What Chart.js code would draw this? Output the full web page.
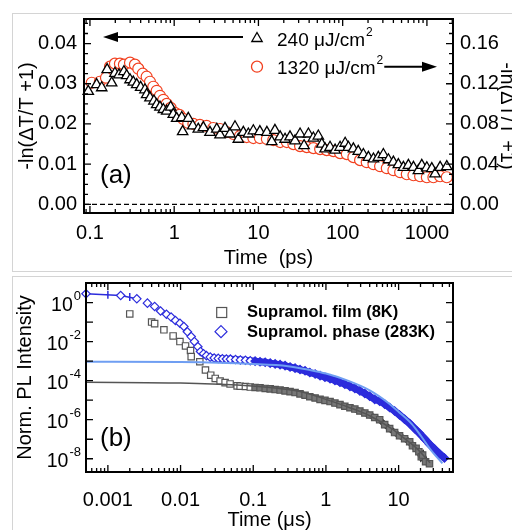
<!DOCTYPE html>
<html>
<head>
<meta charset="utf-8">
<title>Transient absorption and PL decay</title>
<script src="https://cdn.jsdelivr.net/npm/chart.js@4.4.1/dist/chart.umd.min.js"></script>
<style>
  html, body { margin: 0; padding: 0; background: #fff; }
  #page { position: relative; width: 512px; height: 530px; overflow: hidden; }
  .frame { position: absolute; left: 12px; width: 520px; border: 1px solid #d4d4d4; border-right: none; }
  #frame-a { top: 13px; height: 257px; }
  #frame-b { top: 276px; height: 300px; border-bottom: none; }
  canvas { position: absolute; left: 0; }
  #chart-a { top: 0; }
  #chart-b { top: 272px; }
</style>
</head>
<body>
<div id="page">
  <div class="frame" id="frame-a"></div>
  <div class="frame" id="frame-b"></div>
  <canvas id="chart-a" width="525" height="270"></canvas>
  <canvas id="chart-b" width="512" height="258"></canvas>
</div>
<script>
const FONT = "'Liberation Sans', Arial, Helvetica, sans-serif";
Chart.defaults.font.family = FONT;
Chart.defaults.color = '#000';

// ---------- panel (a): -ln(dT/T+1) vs time (ps) ----------
// 240 uJ/cm2, read on the left axis
const lowTime = [0.0955, 0.120, 0.138, 0.160, 0.181, 0.198, 0.221, 0.253, 0.273, 0.299,
  0.327, 0.359, 0.400, 0.450, 0.471, 0.516, 0.575, 0.620, 0.678, 0.743,
  0.815, 0.908, 0.975, 1.07, 1.23, 1.26, 1.47, 1.66, 1.93, 2.22,
  2.66, 3.20, 3.50, 4.01, 4.60, 5.27, 5.77, 6.62, 7.59, 8.70,
  10.4, 12.6, 14.4, 15.7, 18.1, 20.7, 23.7, 27.2, 31.2, 34.8,
  39.2, 44.9, 51.4, 56.5, 61.8, 70.8, 81.3, 93.1, 107, 117,
  134, 153, 176, 202, 232, 265, 304, 349, 400, 458,
  526, 603, 692, 792, 869, 998, 1143, 1250, 1435, 1722];
const lowSignal = [0.0281, 0.0298, 0.0290, 0.0335, 0.0302, 0.0326, 0.0322, 0.0330, 0.0320, 0.0310,
  0.0304, 0.0298, 0.0291, 0.0285, 0.0273, 0.0265, 0.0257, 0.0248, 0.0242, 0.0236,
  0.0232, 0.0242, 0.0224, 0.0214, 0.0216, 0.0181, 0.0214, 0.0195, 0.0187, 0.0191,
  0.0179, 0.0187, 0.0173, 0.0189, 0.0175, 0.0193, 0.0162, 0.0179, 0.0175, 0.0183,
  0.0181, 0.0179, 0.0156, 0.0184, 0.0168, 0.0162, 0.0168, 0.0158, 0.0175, 0.0146,
  0.0175, 0.0165, 0.0170, 0.0150, 0.0138, 0.0142, 0.0135, 0.0142, 0.0152, 0.0142,
  0.0138, 0.0132, 0.0124, 0.0117, 0.0113, 0.0117, 0.0124, 0.0111, 0.0105, 0.0099,
  0.0092, 0.0097, 0.0092, 0.0084, 0.0097, 0.0091, 0.0089, 0.0076, 0.0092, 0.0094];

// 1320 uJ/cm2, read on the right axis
const highTime = [0.105, 0.131, 0.155, 0.173, 0.198, 0.227, 0.253, 0.299, 0.342, 0.375,
  0.423, 0.471, 0.516, 0.565, 0.620, 0.678, 0.743, 0.815, 0.908, 1.02,
  1.15, 1.28, 1.47, 1.69, 2.02, 2.43, 2.91, 3.50, 4.20, 5.04,
  6.04, 7.26, 8.70, 10.4, 12.6, 15.0, 18.1, 21.7, 26.0, 31.2,
  37.5, 44.9, 54.0, 64.7, 77.6, 93.1, 112, 134, 161, 193,
  232, 278, 334, 400, 481, 577, 692, 830, 998, 1194,
  1435, 1722];
const highSignal = [0.121, 0.122, 0.126, 0.137, 0.140, 0.140, 0.139, 0.141, 0.139, 0.135,
  0.130, 0.127, 0.122, 0.117, 0.113, 0.108, 0.104, 0.100, 0.096, 0.091,
  0.089, 0.085, 0.081, 0.080, 0.079, 0.078, 0.076, 0.075, 0.072, 0.070,
  0.068, 0.067, 0.066, 0.066, 0.065, 0.064, 0.062, 0.062, 0.060, 0.058,
  0.057, 0.056, 0.055, 0.054, 0.053, 0.051, 0.050, 0.047, 0.044, 0.042,
  0.040, 0.038, 0.036, 0.034, 0.032, 0.030, 0.029, 0.028, 0.027, 0.027,
  0.028, 0.027];

const psTicks = [0.1, 1, 10, 100, 1000];
const psMinorTicks = [0.09, 0.2, 0.3, 0.4, 0.5, 0.6, 0.7, 0.8, 0.9, 2, 3, 4, 5, 6, 7, 8, 9,
  20, 30, 40, 50, 60, 70, 80, 90, 200, 300, 400, 500, 600, 700, 800, 900, 2000];
const leftTicks = [0, 0.01, 0.02, 0.03, 0.04];
const leftMinorTicks = [0.0025, 0.005, 0.0075, 0.0125, 0.015, 0.0175, 0.0225, 0.025, 0.0275,
  0.0325, 0.035, 0.0375, 0.0425, 0.045];
const rightTicks = [0, 0.04, 0.08, 0.12, 0.16];
const rightMinorTicks = [0.01, 0.02, 0.03, 0.05, 0.06, 0.07, 0.09, 0.10, 0.11, 0.13, 0.14, 0.15, 0.17, 0.18];

// ---------- panel (b): normalised PL intensity vs time (us) ----------
const phaseTime = [5.0e-4, 1.5e-3, 2.5e-3, 3.5e-3, 4.4e-3, 5.3e-3, 6.4e-3, 7.4e-3, 8.5e-3, 9.8e-3,
  0.0111, 0.0124, 0.014, 0.0155, 0.0173, 0.0188, 0.0207, 0.0227, 0.0256, 0.029,
  0.033, 0.0376, 0.0427, 0.0485, 0.057, 0.0665, 0.078, 0.091, 0.106, 0.124,
  0.146, 0.171, 0.20, 0.234, 0.274, 0.321, 0.376, 0.44, 0.516, 0.60,
  0.71, 0.83, 0.97, 1.14, 1.33, 1.56, 1.82, 2.14, 2.5, 2.93,
  3.43, 4.0, 4.69, 5.49, 6.43, 7.53, 8.81, 10.3, 12.1, 14.2,
  16.6, 19.4, 22.7, 26.6, 31.1, 36.5, 42.7];
const phaseValue = [2.8, 2.3, 1.55, 0.93, 0.63, 0.37, 0.25, 0.18, 0.12, 0.087,
  0.059, 0.032, 0.018, 0.010, 0.0055, 0.0031, 0.0024, 0.0019, 0.0016, 0.00145,
  0.00138, 0.00132, 0.00129, 0.00126, 0.0012, 0.00115, 0.0011, 0.00105, 0.001, 9.3e-4,
  8.7e-4, 7.9e-4, 7.2e-4, 6.6e-4, 5.9e-4, 5.0e-4, 4.4e-4, 3.7e-4, 3.2e-4, 2.6e-4,
  2.2e-4, 1.8e-4, 1.5e-4, 1.26e-4, 1.02e-4, 8.3e-5, 6.6e-5, 5.1e-5, 4.0e-5, 3.0e-5,
  2.2e-5, 1.6e-5, 1.1e-5, 8.9e-6, 6.3e-6, 4.2e-6, 2.8e-6, 1.74e-6, 1.05e-6, 6.3e-7,
  3.5e-7, 2.0e-7, 1.07e-7, 5.6e-8, 3.2e-8, 1.8e-8, 1.1e-8];
// little bars on the first phase points
const capTime = [0.001, 0.002];
const capValue = [2.5, 1.9];

const filmTime = [2.0e-3, 4.0e-3, 4.4e-3, 5.9e-3, 7.9e-3, 9.8e-3, 0.0117, 0.0137, 0.014, 0.0184,
  0.022, 0.026, 0.030, 0.035, 0.041, 0.048, 0.06, 0.066, 0.078, 0.091,
  0.106, 0.124, 0.146, 0.171, 0.20, 0.234, 0.274, 0.321, 0.376, 0.44,
  0.516, 0.60, 0.71, 0.83, 0.97, 1.14, 1.33, 1.56, 1.82, 2.14,
  2.5, 2.93, 3.43, 4.0, 4.69, 5.49, 6.43, 7.53, 8.81, 10.3,
  12.1, 14.2, 15.5, 17.4, 19.0, 20.5, 21.4, 23.5, 26.6];
const filmValue = [0.26, 0.10, 0.083, 0.04, 0.0195, 0.010, 0.006, 0.0035, 0.0017, 9.3e-4,
  3.5e-4, 1.9e-4, 1.3e-4, 9.6e-5, 7.9e-5, 6.8e-5, 5.4e-5, 5.2e-5, 5.0e-5, 4.7e-5,
  4.5e-5, 4.3e-5, 4.0e-5, 3.8e-5, 3.5e-5, 3.3e-5, 3.0e-5, 2.75e-5, 2.45e-5, 2.1e-5,
  1.8e-5, 1.5e-5, 1.3e-5, 1.1e-5, 9.8e-6, 8.5e-6, 7.1e-6, 5.9e-6, 4.9e-6, 4.1e-6,
  3.5e-6, 2.8e-6, 2.2e-6, 1.74e-6, 1.3e-6, 1.0e-6, 5.6e-7, 3.5e-7, 2.2e-7, 1.5e-7,
  1.07e-7, 7.4e-8, 4.6e-8, 3.4e-8, 2.3e-8, 1.26e-8, 1.55e-8, 7e-9, 5.6e-9];

// fit curves
const phaseFitTime = [5e-4, 0.01, 0.1, 0.3, 0.6, 1, 2, 4, 7, 10.3, 15, 20, 27, 40];
const phaseFitValue = [9.3e-4, 8.9e-4, 7.1e-4, 5.5e-4, 3.5e-4, 2.3e-4, 1.0e-4, 3.2e-5, 7.9e-6, 2.3e-6, 6.3e-7, 1.6e-7, 3.2e-8, 5.8e-9];
const filmFitTime = [5e-4, 0.01, 0.06, 0.2, 0.5, 1, 2, 4, 8, 12, 18, 27];
const filmFitValue = [8.3e-5, 7.6e-5, 6.0e-5, 4.2e-5, 2.5e-5, 1.1e-5, 4.5e-6, 1.6e-6, 3.5e-7, 1.1e-7, 3.2e-8, 6.3e-9];

const usTicks = [0.001, 0.01, 0.1, 1, 10];
const usMinorTicks = [6e-4, 7e-4, 8e-4, 9e-4, 0.002, 0.003, 0.004, 0.005, 0.006, 0.007, 0.008, 0.009,
  0.02, 0.03, 0.04, 0.05, 0.06, 0.07, 0.08, 0.09, 0.2, 0.3, 0.4, 0.5, 0.6, 0.7, 0.8, 0.9,
  2, 3, 4, 5, 6, 7, 8, 9, 20, 30, 40, 50];
const plDecades = [1e-8, 1e-7, 1e-6, 1e-5, 1e-4, 1e-3, 1e-2, 1e-1, 1];
const plLabelExp = [0, -2, -4, -6, -8];

const BLUE = '#2c2cdc';
const RED = '#f2401f';

function toPoints(xs, ys) {
  return xs.map((x, i) => ({ x: x, y: ys[i] }));
}

function setTicks(values) {
  return function (scale) {
    scale.ticks = values.map(v => ({ value: v }));
  };
}

// inward tick marks and the black box round the plot
function drawFrame(chart, marks) {
  const ctx = chart.ctx;
  const a = chart.chartArea;
  ctx.save();
  ctx.strokeStyle = '#000';
  ctx.lineWidth = 1.3;
  ctx.beginPath();
  marks.forEach(m => {
    const s = chart.scales[m.scale];
    m.values.forEach(v => {
      const p = s.getPixelForValue(v);
      m.sides.forEach(side => {
        if (side === 'bottom') { ctx.moveTo(p, a.bottom); ctx.lineTo(p, a.bottom - m.len); }
        if (side === 'top') { ctx.moveTo(p, a.top); ctx.lineTo(p, a.top + m.len); }
        if (side === 'left') { ctx.moveTo(a.left, p); ctx.lineTo(a.left + m.len, p); }
        if (side === 'right') { ctx.moveTo(a.right, p); ctx.lineTo(a.right - m.len, p); }
      });
    });
  });
  ctx.stroke();
  ctx.lineWidth = 2;
  ctx.strokeRect(a.left, a.top, a.right - a.left, a.bottom - a.top);
  ctx.restore();
}

function arrow(ctx, x1, x2, y) {
  const dir = Math.sign(x2 - x1);
  ctx.lineWidth = 2;
  ctx.beginPath();
  ctx.moveTo(x1, y);
  ctx.lineTo(x2 - dir * 12, y);
  ctx.stroke();
  ctx.beginPath();
  ctx.moveTo(x2, y);
  ctx.lineTo(x2 - dir * 15, y - 5);
  ctx.lineTo(x2 - dir * 15, y + 5);
  ctx.closePath();
  ctx.fill();
}

function textWithSup(ctx, x, y, base, sup, size) {
  ctx.font = size + 'px ' + FONT;
  ctx.fillText(base, x, y);
  const w = ctx.measureText(base).width;
  ctx.font = Math.round(size * 0.65) + 'px ' + FONT;
  ctx.fillText(sup, x + w + 1, y - size * 0.52);
  return x + w + 1 + ctx.measureText(sup).width;
}

const tickFont = { size: 20 };
const titleFont = { size: 20 };
const noGrid = { display: false, drawTicks: false };

// ---------- chart (a) ----------
const panelA = {
  id: 'panelA',
  beforeDatasetsDraw(chart) {
    const ctx = chart.ctx;
    const a = chart.chartArea;
    const y0 = chart.scales.y.getPixelForValue(0);
    ctx.save();
    ctx.setLineDash([5, 3]);
    ctx.lineWidth = 1.3;
    ctx.strokeStyle = '#000';
    ctx.beginPath();
    ctx.moveTo(a.left, y0);
    ctx.lineTo(a.right, y0);
    ctx.stroke();
    ctx.restore();
  },
  afterDatasetsDraw(chart) {
    drawFrame(chart, [
      { scale: 'x', values: psTicks, len: 7, sides: ['bottom', 'top'] },
      { scale: 'x', values: psMinorTicks, len: 4, sides: ['bottom', 'top'] },
      { scale: 'y', values: leftTicks, len: 7, sides: ['left'] },
      { scale: 'y', values: leftMinorTicks, len: 4, sides: ['left'] },
      { scale: 'y2', values: rightTicks, len: 7, sides: ['right'] },
      { scale: 'y2', values: rightMinorTicks, len: 4, sides: ['right'] }
    ]);
  },
  afterDraw(chart) {
    const ctx = chart.ctx;
    ctx.save();
    ctx.fillStyle = '#000';
    ctx.strokeStyle = '#000';
    // legend markers
    ctx.lineWidth = 1.3;
    ctx.fillStyle = '#fff';
    ctx.beginPath();
    ctx.moveTo(257, 32.5);
    ctx.lineTo(262.2, 41.5);
    ctx.lineTo(251.8, 41.5);
    ctx.closePath();
    ctx.fill();
    ctx.stroke();
    ctx.strokeStyle = RED;
    ctx.beginPath();
    ctx.arc(257, 66.7, 5.5, 0, Math.PI * 2);
    ctx.fill();
    ctx.stroke();
    ctx.fillStyle = '#000';
    ctx.strokeStyle = '#000';
    textWithSup(ctx, 277, 46, '240 μJ/cm', '2', 19);
    arrow(ctx, 243, 103, 37);
    const end = textWithSup(ctx, 277, 74, '1320 μJ/cm', '2', 19);
    arrow(ctx, end + 1, 437, 66.7);
    ctx.font = '26px ' + FONT;
    ctx.fillText('(a)', 100, 182.5);
    ctx.restore();
  }
};

new Chart(document.getElementById('chart-a'), {
  type: 'scatter',
  data: {
    datasets: [
      {
        label: '240 μJ/cm²',
        data: toPoints(lowTime, lowSignal),
        yAxisID: 'y',
        pointStyle: 'triangle',
        pointRadius: 6,
        pointBorderWidth: 1.3,
        borderColor: '#000',
        backgroundColor: '#fff',
        clip: false,
        order: 1
      },
      {
        label: '1320 μJ/cm²',
        data: toPoints(highTime, highSignal),
        yAxisID: 'y2',
        pointStyle: 'circle',
        pointRadius: 5.5,
        pointBorderWidth: 1.2,
        borderColor: RED,
        backgroundColor: '#fff',
        clip: false,
        order: 2
      }
    ]
  },
  options: {
    responsive: false,
    animation: false,
    devicePixelRatio: 1,
    layout: { padding: { top: 17, left: 0, right: 0, bottom: 0 } },
    plugins: { legend: { display: false }, tooltip: { enabled: false } },
    scales: {
      x: {
        type: 'logarithmic',
        position: 'bottom',
        min: 0.085,
        max: 2040,
        afterBuildTicks: setTicks(psTicks),
        afterFit: s => { s.height = 57; },
        grid: noGrid,
        border: { display: false },
        ticks: { autoSkip: false, maxRotation: 0, minRotation: 0, padding: 8, font: tickFont, color: '#000',
          callback: v => String(v) },
        title: { display: true, text: 'Time  (ps)', font: titleFont, color: '#000', padding: { top: 0, bottom: 0 } }
      },
      y: {
        position: 'left',
        min: -0.00214,
        max: 0.0461,
        afterBuildTicks: setTicks(leftTicks),
        afterFit: s => { s.width = 84; },
        grid: noGrid,
        border: { display: false },
        ticks: { padding: 7, font: tickFont, color: '#000', callback: v => v.toFixed(2) },
        title: { display: true, text: '-ln(ΔT/T +1)', font: titleFont, color: '#000', padding: { top: 15, bottom: 0 } }
      },
      y2: {
        position: 'right',
        min: -0.00856,
        max: 0.1844,
        afterBuildTicks: setTicks(rightTicks),
        afterFit: s => { s.width = 72; },
        grid: noGrid,
        border: { display: false },
        ticks: { padding: 7, font: tickFont, color: '#000', callback: v => v.toFixed(2) },
        title: { display: true, text: '-ln(ΔT/T +1)', font: titleFont, color: '#000', padding: { top: 6, bottom: 0 } }
      }
    }
  },
  plugins: [panelA]
});

// ---------- chart (b) ----------
const panelB = {
  id: 'panelB',
  afterDatasetsDraw(chart) {
    drawFrame(chart, [
      { scale: 'x', values: usTicks, len: 7, sides: ['bottom', 'top'] },
      { scale: 'x', values: usMinorTicks, len: 4, sides: ['bottom', 'top'] },
      { scale: 'y', values: plDecades, len: 7, sides: ['left', 'right'] }
    ]);
  },
  afterDraw(chart) {
    const ctx = chart.ctx;
    const a = chart.chartArea;
    const ys = chart.scales.y;
    ctx.save();
    ctx.fillStyle = '#000';
    ctx.textBaseline = 'alphabetic';
    // 10^n labels
    plLabelExp.forEach(e => {
      const py = ys.getPixelForValue(Math.pow(10, e));
      ctx.font = '13px ' + FONT;
      ctx.textAlign = 'right';
      const expText = String(e);
      const ew = ctx.measureText(expText).width;
      ctx.fillText(expText, a.left - 5, py - 2.5);
      ctx.font = '19.5px ' + FONT;
      ctx.fillText('10', a.left - 6 - ew, py + 8);
    });
    ctx.textAlign = 'left';
    // legend
    ctx.lineWidth = 1.2;
    ctx.strokeStyle = '#555';
    ctx.strokeRect(216.7, 35.5, 10, 10);
    ctx.strokeStyle = BLUE;
    ctx.beginPath();
    ctx.moveTo(221, 53.7);
    ctx.lineTo(227, 59.7);
    ctx.lineTo(221, 65.7);
    ctx.lineTo(215, 59.7);
    ctx.closePath();
    ctx.stroke();
    ctx.font = 'bold 16.5px ' + FONT;
    ctx.fillText('Supramol. film (8K)', 247, 44.7);
    ctx.fillText('Supramol. phase (283K)', 247, 64.7);
    ctx.font = '26px ' + FONT;
    ctx.fillText('(b)', 100, 174);
    ctx.restore();
  }
};

const phasePoints = toPoints(phaseTime, phaseValue);
const filmPoints = toPoints(filmTime, filmValue);

new Chart(document.getElementById('chart-b'), {
  type: 'scatter',
  data: {
    datasets: [
      {
        label: 'phase fit',
        data: toPoints(phaseFitTime, phaseFitValue),
        showLine: true,
        borderColor: '#6f9ef2',
        borderWidth: 2,
        pointRadius: 0,
        cubicInterpolationMode: 'monotone',
        clip: false,
        order: 0
      },
      {
        label: 'Supramol. phase (283K)',
        data: phasePoints,
        pointStyle: 'rectRot',
        pointRadius: 4.2,
        pointBorderWidth: 1.2,
        borderColor: BLUE,
        pointBackgroundColor: c => (c.raw && c.raw.x > 0.1 ? BLUE : '#fff'),
        clip: false,
        order: 1
      },
      {
        label: 'phase band',
        data: phasePoints.filter(p => p.x > 0.025),
        showLine: true,
        borderColor: BLUE,
        borderWidth: 7,
        pointRadius: 0,
        clip: false,
        order: 2
      },
      {
        label: 'phase start',
        data: phasePoints.slice(0, 3),
        showLine: true,
        borderColor: BLUE,
        borderWidth: 1.5,
        pointRadius: 0,
        clip: false,
        order: 3
      },
      {
        label: 'phase bars',
        data: toPoints(capTime, capValue),
        pointStyle: 'line',
        rotation: 90,
        pointRadius: 4,
        pointBorderWidth: 1.5,
        borderColor: BLUE,
        clip: false,
        order: 3
      },
      {
        label: 'film fit',
        data: toPoints(filmFitTime, filmFitValue),
        showLine: true,
        borderColor: '#555',
        borderWidth: 1.5,
        pointRadius: 0,
        cubicInterpolationMode: 'monotone',
        clip: false,
        order: 4
      },
      {
        label: 'Supramol. film (8K)',
        data: filmPoints,
        pointStyle: 'rect',
        pointRadius: 4.5,
        pointBorderWidth: 1.2,
        borderColor: '#555',
        pointBackgroundColor: c => (c.raw && c.raw.x > 0.1 ? '#777' : '#fff'),
        clip: false,
        order: 5
      },
      {
        label: 'film band',
        data: filmPoints.filter(p => p.x > 0.06),
        showLine: true,
        borderColor: '#222',
        borderWidth: 6,
        pointRadius: 0,
        clip: false,
        order: 6
      }
    ]
  },
  options: {
    responsive: false,
    animation: false,
    devicePixelRatio: 1,
    layout: { padding: { top: 11, left: 0, right: 59, bottom: 0 } },
    plugins: { legend: { display: false }, tooltip: { enabled: false } },
    scales: {
      x: {
        type: 'logarithmic',
        min: 5.0e-4,
        max: 56,
        afterBuildTicks: setTicks(usTicks),
        afterFit: s => { s.height = 58; },
        grid: noGrid,
        border: { display: false },
        ticks: { autoSkip: false, maxRotation: 0, minRotation: 0, padding: 16, font: tickFont, color: '#000',
          callback: v => String(v) },
        title: { display: true, text: 'Time (μs)', font: { size: 20, lineHeight: 1 }, color: '#000', padding: { top: 0, bottom: 0 } }
      },
      y: {
        type: 'logarithmic',
        min: 2.1e-9,
        max: 10,
        afterBuildTicks: setTicks(plDecades),
        afterFit: s => { s.width = 86; },
        grid: noGrid,
        border: { display: false },
        ticks: { display: false },
        title: { display: true, text: 'Norm. PL Intensity', font: titleFont, color: '#000', padding: { top: 13, bottom: 0 } }
      }
    }
  },
  plugins: [panelB]
});
</script>
</body>
</html>
